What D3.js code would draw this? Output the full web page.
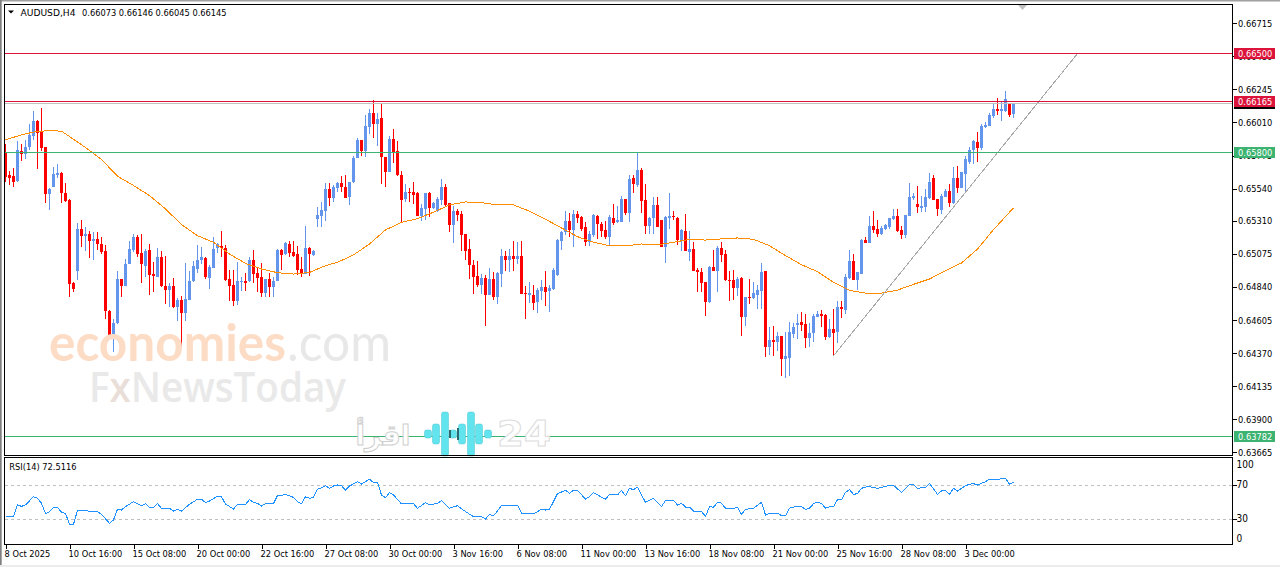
<!DOCTYPE html>
<html>
<head>
<meta charset="utf-8">
<script src="https://cdn.jsdelivr.net/npm/d3@7"></script>
<style>
html, body { margin: 0; padding: 0; background: #ffffff; overflow: hidden; }
svg { display: block; }
text { font-family: "DejaVu Sans Condensed", "DejaVu Sans", sans-serif; font-size: 9.2px; fill: #000000; }
.candle { shape-rendering: crispEdges; }
.tick line, .frame, .aliased { shape-rendering: crispEdges; }
</style>
</head>
<body>
<svg id="chart" width="1280" height="567"></svg>
<script>
// prices are in points (1 point = 0.00001)
var opens = [65792,65633,65626,65592,65804,65785,65834,65913,66017,65948,
65839,65500,65550,65635,65654,65512,65462,64871,64956,65255,
65205,65220,65165,65182,65148,65099,64671,64500,64581,64899,
64845,65006,65106,65198,65084,64992,65106,64935,64913,65056,
64849,64821,64849,64700,64750,64657,64750,64880,64970,65034,
65049,64906,64978,65115,65134,65120,64899,64856,64743,64878,
64885,64885,65034,64942,64913,64800,64899,64842,64885,65106,
65077,65148,65091,65077,64970,64935,65120,65070,65326,65348,
65383,65540,65474,65547,65583,65554,65478,65585,65754,65882,
65804,65975,66074,65996,66039,65768,65661,65889,65804,65640,
65466,65519,65519,65505,65348,65398,65512,65405,65379,65462,
65554,65440,65284,65383,65362,65220,65113,64999,64921,64856,
64906,64785,64899,64771,64935,65063,65034,65063,65042,65063,
64800,64785,64785,64735,64814,64842,64814,64828,64928,65170,
65232,65312,65248,65362,65341,65270,65163,65213,65348,65291,
65248,65198,65334,65305,65305,65469,65369,65618,65562,65675,
65462,65277,65334,65426,65319,65127,65334,65348,65334,65177,
65241,65091,65113,64963,64949,64878,64735,64985,64956,65120,
65077,64892,64892,64835,64906,64629,64771,64764,64785,64814,
64956,64415,64465,64450,64493,64329,64337,64507,64572,64593,
64579,64479,64515,64629,64650,64643,64486,64543,64522,64700,
64678,64906,65027,64892,64935,65177,65156,65277,65255,65220,
65255,65269,65326,65348,65248,65212,65348,65476,65433,65405,
65412,65476,65618,65469,65391,65483,65526,65440,65618,65547,
65647,65732,65811,65868,65825,65977,65982,66053,66103,66088,
66095,66138,66073];

var highs = [65858,65664,65683,65875,65858,65882,65996,66088,66024,66110,
65839,65547,65692,65718,65661,65583,65464,64873,65298,65319,
65270,65236,65234,65234,65198,65141,64676,64612,64956,64899,
65039,65170,65217,65213,65220,65110,65146,65015,65118,65099,
65063,64866,64902,64762,64778,65013,64956,65027,65141,65122,
65056,64999,65198,65156,65241,65141,64961,64961,65020,64913,
64937,65051,65106,64980,65011,64899,64942,64909,65113,65113,
65163,65170,65165,65134,65051,65277,65127,65106,65407,65443,
65583,65583,65562,65590,65626,65633,65590,65773,65899,65882,
66060,66103,66167,66074,66145,65768,65915,65967,65875,65668,
65573,65545,65590,65519,65431,65512,65519,65448,65483,65609,
65569,65440,65419,65398,65383,65220,65184,65034,65027,64935,
64928,64978,64949,64949,65113,65099,65113,65170,65163,65170,
64849,64878,64856,64833,64892,64956,64854,64973,65179,65236,
65383,65369,65391,65383,65348,65305,65241,65362,65355,65305,
65312,65355,65433,65419,65490,65469,65640,65633,65794,65683,
65569,65341,65478,65483,65319,65348,65505,65383,65341,65253,
65362,65241,65163,64973,64977,64878,64992,65106,65134,65163,
65106,64956,64963,64911,64909,64771,64899,64878,64856,65013,
64956,64557,64564,64522,64493,64522,64593,64586,64650,64664,
64650,64586,64650,64671,64678,64650,64614,64685,64743,64743,
64935,65106,65077,64949,65184,65198,65348,65383,65317,65277,
65291,65334,65398,65398,65277,65355,65583,65509,65561,65490,
65538,65654,65633,65469,65504,65538,65569,65690,65697,65661,
65770,65839,65882,65939,65996,66010,66074,66145,66181,66152,
66231,66145,66146];

var lows = [65585,65562,65550,65585,65735,65751,65811,65882,65678,65804,
65436,65386,65550,65614,65436,65443,64766,64802,64892,65122,
65099,65044,65030,65103,65075,64612,64486,64379,64576,64771,
64845,65004,65091,65051,64866,64909,64780,64802,64909,64842,
64716,64695,64688,64600,64415,64595,64750,64878,64937,65004,
64897,64828,64978,65084,65051,64885,64743,64707,64709,64814,
64814,64878,64871,64802,64766,64766,64771,64771,64885,64961,
65070,65051,65056,64925,64909,64932,64916,65063,65265,65270,
65312,65419,65448,65514,65519,65471,65426,65583,65754,65775,
65768,65925,65896,65846,65576,65554,65661,65720,65626,65305,
65448,65448,65431,65348,65312,65317,65341,65395,65374,65426,
65419,65234,65156,65312,65099,65034,64899,64792,64842,64790,
64565,64785,64750,64721,64842,64956,64949,64956,65004,64792,
64614,64724,64678,64657,64750,64707,64664,64821,64921,65106,
65213,65198,65127,65298,65241,65132,65130,65198,65184,65198,
65182,65141,65284,65298,65305,65355,65305,65505,65554,65369,
65217,65220,65217,65265,65127,65013,65255,65317,65141,65099,
65094,65027,64956,64802,64807,64631,64723,64956,64807,65020,
64885,64743,64750,64773,64493,64560,64721,64754,64683,64683,
64346,64358,64351,64384,64208,64194,64208,64481,64472,64529,
64403,64415,64450,64629,64557,64465,64477,64351,64441,64621,
64650,64899,64892,64821,64932,65156,65156,65227,65198,65212,
65248,65253,65319,65234,65184,65191,65348,65462,65369,65376,
65376,65466,65462,65348,65362,65481,65407,65433,65512,65547,
65519,65718,65718,65732,65811,65972,65982,66039,66060,66017,
66081,66046,66045];

var closes = [65621,65614,65590,65811,65785,65839,65918,66017,65934,65827,
65500,65540,65645,65654,65507,65455,64859,64823,65255,65205,
65217,65165,65182,65146,65087,64667,64491,64586,64899,64845,
65006,65113,65198,65077,65001,65099,64928,64916,65056,64845,
64821,64849,64700,64750,64657,64754,64885,64987,65034,65056,
64909,64985,65113,65144,65115,64892,64849,64743,64885,64885,
64871,65034,64935,64906,64800,64899,64842,64885,65106,65070,
65156,65084,65063,64963,64935,65120,65077,65099,65355,65391,
65540,65476,65554,65583,65554,65476,65590,65754,65882,65804,
65982,66074,65996,66032,65768,65661,65889,65797,65633,65462,
65519,65512,65497,65348,65405,65512,65405,65440,65469,65554,
65426,65284,65383,65355,65213,65099,64999,64913,64856,64906,
64785,64899,64771,64942,65063,65034,65063,65042,65063,64792,
64792,64800,64728,64821,64842,64807,64835,64963,65177,65234,
65312,65248,65362,65334,65255,65163,65220,65355,65291,65241,
65198,65341,65298,65319,65469,65369,65611,65569,65675,65455,
65277,65334,65426,65270,65127,65341,65348,65341,65177,65243,
65099,65113,64956,64944,64871,64735,64985,64956,65120,65070,
64892,64885,64835,64899,64629,64771,64764,64800,64821,64949,
64415,64465,64450,64493,64329,64351,64522,64557,64586,64572,
64479,64515,64636,64650,64636,64486,64543,64515,64700,64685,
64913,65027,64892,64949,65177,65156,65277,65248,65220,65262,
65284,65334,65348,65241,65212,65355,65483,65490,65412,65419,
65483,65590,65462,65398,65490,65526,65440,65618,65547,65661,
65747,65811,65875,65825,65982,65989,66060,66103,66088,66103,
66174,66060,66145];

// moving average, read at these bars
var maBars = [0,4,8,12,14,16,20,24,28,32,36,40,44,48,52,56,60,64,68,72,76,80,83,87,91,95,99,103,107,111,115,119,123,127,131,135,139,143,147,151,155,159,163,167,171,175,179,183,187,191,195,199,203,207,211,215,219,223,227,231,235,239,243,247,251,252];
var maValues = [65887,65922,65948,65951,65948,65910,65832,65747,65628,65562,65490,65395,65284,65205,65158,65075,65008,64968,64942,64932,64944,64992,65016,65068,65146,65246,65300,65326,65372,65424,65445,65440,65424,65424,65379,65322,65260,65198,65158,65134,65132,65146,65139,65158,65179,65174,65182,65189,65179,65134,65063,64999,64949,64873,64816,64797,64797,64818,64859,64897,64956,65011,65110,65248,65372,65402];

// RSI(14), read at its turning points
var rsiBars = [0,2,3,4,5,7,8,9,10,11,12,13,14,15,16,17,18,20,21,23,24,26,27,28,29,30,32,33,34,35,36,37,38,39,41,42,43,44,46,48,49,50,51,53,54,55,57,58,60,61,62,63,64,65,67,68,69,70,72,73,74,75,76,77,78,79,80,81,82,83,84,85,86,88,89,91,92,93,94,95,96,97,99,102,103,105,106,108,109,111,113,115,117,119,120,121,122,124,125,126,128,129,132,134,135,136,138,140,141,142,143,145,146,147,150,151,153,154,155,156,157,158,160,162,164,165,167,168,169,170,171,172,174,175,176,177,178,179,180,182,183,184,185,187,189,190,191,193,194,195,196,197,199,200,201,202,203,204,205,206,207,208,209,210,211,212,213,214,215,216,218,219,221,222,224,226,227,228,230,231,233,234,235,236,237,238,240,241,242,243,245,246,248,250,251,252];
var rsiValues = [32.2,32.2,45.9,44.3,45.9,55.7,53.7,47.9,35.7,38.1,43.2,43.2,37.3,36.1,23.2,23.2,39.6,39.6,38.1,38.1,34.9,24.3,28.3,40.8,40,43.9,49.8,47.5,45.1,47.5,43.2,43.2,47.5,42,42,38.8,40.8,38.8,46.7,52.6,52.6,48.6,50.6,56.1,55.3,47.1,41.2,46.7,46.7,52.2,49,47.9,44.7,47.5,47.5,56.9,57.3,58.4,54.9,49.8,47.5,55.7,53.7,54.9,64.3,66.3,68.6,65.5,68.2,69.4,68.6,63.5,68.2,73.3,70.6,76.1,72.2,72.2,57.7,54.5,60.4,57.7,47.1,47.5,42,48.6,45.9,47.9,51,42,45.1,38.1,32.2,32.2,29.4,34.9,33,45.1,45.1,45.5,45.5,36.1,35.3,40.8,40,40.8,59.2,63.1,59.6,63.1,63.1,52.9,55.7,60.4,52.6,58.4,57.7,63.1,56.9,65.5,63.9,66.7,49,53.7,43.9,51.4,51.4,45.9,47.9,43.5,43.5,38.8,38.1,32.6,43.9,43.2,49,48.2,42,42,43.2,34.9,40.8,42,49,34.1,36.1,36.1,33.4,33.4,42,43.5,43.9,40.8,42,47.5,49,47.9,42,43.9,43.9,52.2,52.2,60.8,63.9,58.4,59.2,65.5,67,67.5,65.5,66.7,69,69,60.8,70.2,70.2,65.5,66.7,71.4,58.4,62.4,63.1,58.4,65.5,62.4,68.6,70.2,71,69.4,73.3,76.1,76.1,77.3,70.2,72.5];

var priceTicks = [66715,66480,66245,66010,65775,65540,65310,65075,64840,64605,64370,64135,63900,63665];
var rsiTicks = [100,70,30,0];
var rsiLevels = [70,30];
var timeBars = [0,16,32,48,64,80,96,112,128,144,160,176,192,208,224,240];
var timeLabels = ["8 Oct 2025","10 Oct 16:00","15 Oct 08:00","20 Oct 00:00","22 Oct 16:00","27 Oct 08:00","30 Oct 00:00","3 Nov 16:00","6 Nov 08:00","11 Nov 00:00","13 Nov 16:00","18 Nov 08:00","21 Nov 00:00","25 Nov 16:00","28 Nov 08:00","3 Dec 00:00"];

var levelPrices = [66500,66165,65800,63782];
var levelColors = ["#dc143c","#dc143c","#3cb371","#3cb371"];
var lastPrice = 66145;
var trendBars = [207,268];
var trendPrices = [64351,66500];

var svg = d3.select("#chart");
var x = d3.scaleLinear().domain([0,252]).range([5.5,1013.5]);
var y = d3.scaleLinear().domain([66715,63665]).range([23.3,452.3]);
var yRsi = d3.scaleLinear().domain([0,100]).range([544,459]);
var fmt = function(p) { return (p / 100000).toFixed(5); };
// pixel row of a horizontal level
var rowOf = function(p) { return Math.floor(y(p) + 0.35) + 0.5; };

var paneLeft = 4.5, paneRight = 1232.5;

// window edges
svg.append("rect").attr("x",0).attr("y",0).attr("width",1280).attr("height",567).attr("fill","#ffffff");
svg.append("rect").attr("x",0).attr("y",0).attr("width",1280).attr("height",1.5).attr("fill","#a0a0a0");
svg.append("rect").attr("x",0).attr("y",0).attr("width",1.7).attr("height",567).attr("fill","#808080");
svg.append("rect").attr("x",0).attr("y",565).attr("width",1280).attr("height",2).attr("fill","#ececec");

// chart shift marker
svg.append("path").attr("d","M1018 5L1027 5L1022.5 10Z").attr("fill","#c0c0c0");

// candles
var candles = svg.append("g").attr("class","candle");
opens.forEach(function(o, i) {
	var c = closes[i];
	var color = c >= o ? "#6495ed" : "#ff0000";
	var top = Math.round(y(Math.max(o, c)));
	var bottom = Math.round(y(Math.min(o, c)));
	candles.append("rect").attr("x",x(i)-0.5).attr("width",1)
		.attr("y",y(highs[i])).attr("height",y(lows[i])-y(highs[i])).attr("fill",color);
	candles.append("rect").attr("x",x(i)-1.5).attr("width",3)
		.attr("y",top).attr("height",Math.max(1,bottom-top)).attr("fill",color);
});

// moving average
var maLine = d3.line().x(function(d) { return x(d[0]); }).y(function(d) { return y(d[1]); });
svg.append("path").attr("class","aliased").datum(maBars.map(function(b, i) { return [b, maValues[i]]; }))
	.attr("d",maLine).attr("fill","none").attr("stroke","#ff8c00").attr("stroke-width",1);

// trend line
svg.append("path").attr("class","aliased").datum(trendBars.map(function(b, i) { return [b, trendPrices[i]]; }))
	.attr("d",maLine).attr("fill","none").attr("stroke","#a9a9a9").attr("stroke-width",1);

// horizontal levels
svg.append("line").attr("class","frame").attr("x1",paneLeft).attr("x2",paneRight)
	.attr("y1",rowOf(lastPrice)).attr("y2",rowOf(lastPrice)).attr("stroke","#c0c0c0");
levelPrices.forEach(function(p, i) {
	svg.append("line").attr("class","frame").attr("x1",paneLeft).attr("x2",paneRight)
		.attr("y1",rowOf(p)).attr("y2",rowOf(p)).attr("stroke",levelColors[i]);
});

// watermarks
svg.append("text").attr("x",49).attr("y",361).attr("textLength",237).attr("lengthAdjust","spacingAndGlyphs")
	.style("font-family","Lato").style("font-size","52px").style("font-weight",700).style("fill","#fddcc6").text("economies");
svg.append("text").attr("x",287).attr("y",361).attr("textLength",104).attr("lengthAdjust","spacingAndGlyphs")
	.style("font-family","Lato").style("font-size","52px").style("fill","#e8e8e8").text(".com");
var fx = svg.append("text").attr("x",89).attr("y",402).attr("textLength",257).attr("lengthAdjust","spacingAndGlyphs")
	.style("font-family","Open Sans").style("font-size","42px").style("font-weight",600).style("fill","#e9e9e9");
fx.append("tspan").text("F");
fx.append("tspan").style("fill","#eadfd8").text("x");
fx.append("tspan").text("NewsToday");

svg.append("text").attr("x",383).attr("y",445).attr("text-anchor","middle")
	.style("font-family","DejaVu Sans").style("font-weight","bold").style("font-size","28px")
	.style("fill","#ffffff").style("stroke","#cfcfcf").style("stroke-width",1).text("اقرأ");
svg.append("text").attr("x",497).attr("y",446).attr("textLength",54).attr("lengthAdjust","spacingAndGlyphs")
	.style("font-family","DejaVu Sans").style("font-weight","bold").style("font-size","36px")
	.style("fill","#ffffff").style("stroke","#dcdcdc").style("stroke-width",1).text("24");
[[428,8],[436,20],[445,44],[453,8],[462,20],[471,44],[479,20],[488,8]].forEach(function(b) {
	svg.append("rect").attr("x",b[0]-3.5).attr("y",434-b[1]/2).attr("width",7).attr("height",b[1])
		.attr("rx",2).attr("fill","#62e4ee").attr("stroke","#4cc4cf").attr("stroke-width",0.5);
});
svg.append("rect").attr("x",457).attr("y",428).attr("width",2).attr("height",12).attr("fill","#2a6a70");
svg.append("rect").attr("x",449).attr("y",430).attr("width",2).attr("height",8).attr("fill","#2a6a70");

// pane frames
[[4,paneLeft,paneRight],[455,paneLeft,paneRight],[457,paneLeft,paneRight],[544,paneLeft,paneRight]].forEach(function(l) {
	svg.append("line").attr("class","frame").attr("x1",l[1]).attr("x2",l[2]).attr("y1",l[0]+0.5).attr("y2",l[0]+0.5).attr("stroke","#000000");
});
[[4,455],[457,544]].forEach(function(l) {
	svg.append("line").attr("class","frame").attr("x1",paneLeft).attr("x2",paneLeft).attr("y1",l[0]).attr("y2",l[1]+1).attr("stroke","#000000");
	svg.append("line").attr("class","frame").attr("x1",paneRight).attr("x2",paneRight).attr("y1",l[0]).attr("y2",l[1]+1).attr("stroke","#000000");
});

// price axis
var priceAxis = svg.append("g").attr("transform","translate(1232.5,0)")
	.call(d3.axisRight(y).tickValues(priceTicks).tickFormat(fmt).tickSize(4));
priceAxis.select(".domain").remove();
priceAxis.selectAll("text").attr("x",5.5);

// price flags
function flag(price, color) {
	svg.append("rect").attr("x",1234).attr("y",rowOf(price)-5.5).attr("width",41).attr("height",11).attr("fill",color);
	svg.append("text").attr("x",1238).attr("y",rowOf(price)+3.4).style("fill","#ffffff").text(fmt(price));
}
flag(lastPrice,"#000000");
levelPrices.forEach(function(p, i) { flag(p, levelColors[i]); });

// RSI pane
rsiLevels.forEach(function(v) {
	svg.append("line").attr("class","frame").attr("x1",paneLeft).attr("x2",paneRight)
		.attr("y1",Math.round(yRsi(v))+0.5).attr("y2",Math.round(yRsi(v))+0.5)
		.attr("stroke","#c0c0c0").attr("stroke-dasharray","3,3");
});
svg.append("path").attr("class","aliased").datum(rsiBars.map(function(b, i) { return [b, rsiValues[i]]; }))
	.attr("d",d3.line().x(function(d) { return x(d[0]); }).y(function(d) { return yRsi(d[1]); }))
	.attr("fill","none").attr("stroke","#1e90ff").attr("stroke-width",1);

var rsiAxis = svg.append("g").attr("transform","translate(1232.5,0)")
	.call(d3.axisRight(yRsi).tickValues(rsiTicks).tickSize(4));
rsiAxis.select(".domain").remove();
rsiAxis.selectAll(".tick text").attr("x",4).style("font-size","10px")
	.attr("transform",function(d) { return d === 100 ? "translate(0,5.5)" : (d === 0 ? "translate(0,-6)" : null); });
rsiAxis.selectAll(".tick line").attr("opacity",function(d) { return d === 100 || d === 0 ? 0 : 1; });

// time axis
var timeAxis = svg.append("g").attr("transform","translate(0,544.5)")
	.call(d3.axisBottom(x).tickValues(timeBars).tickFormat(function(b) { return timeLabels[timeBars.indexOf(b)]; }).tickSize(4));
timeAxis.select(".domain").remove();
timeAxis.selectAll("text").attr("text-anchor","start").attr("x",-1.5).attr("y",6);

// captions
svg.append("path").attr("d","M8 10.5L14 10.5L11 13.5Z").attr("fill","#000000");
svg.append("text").attr("x",20.5).attr("y",16).attr("textLength",55).attr("lengthAdjust","spacingAndGlyphs").text("AUDUSD,H4");
svg.append("text").attr("x",82).attr("y",16).text("0.66073 0.66146 0.66045 0.66145");
svg.append("text").attr("x",9.3).attr("y",470).text("RSI(14) 72.5116");
</script>
</body>
</html>
